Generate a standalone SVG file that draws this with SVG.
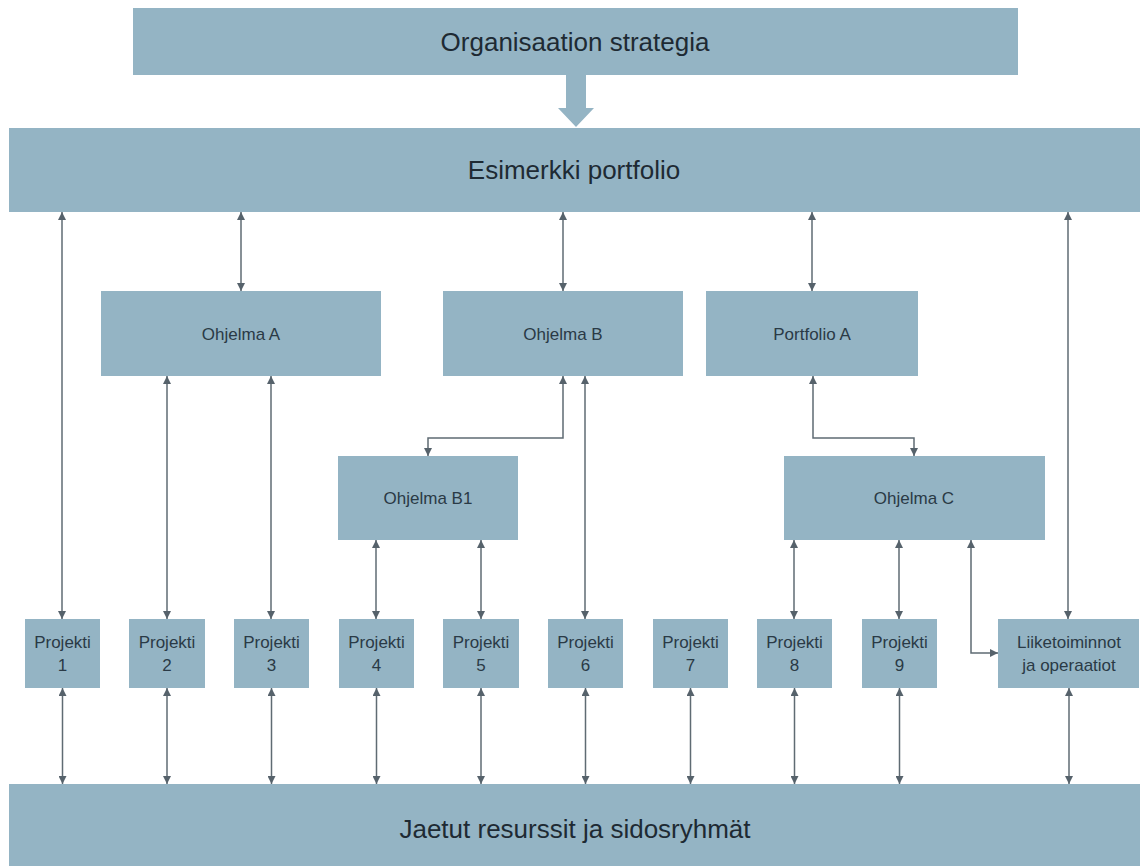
<svg xmlns="http://www.w3.org/2000/svg" width="1140" height="866" viewBox="0 0 1140 866">
<style>
.box{fill:#94b4c4}
.t{font-family:"Liberation Sans",Arial,sans-serif;fill:#2a3a46;text-anchor:middle;dominant-baseline:central}
.big{font-size:26px;fill:#1e2a33}
.sm{font-size:17px}
.c{fill:none;stroke:#5f6b73;stroke-width:1.5;marker-start:url(#ah);marker-end:url(#ah)}
</style>
<defs>
<marker id="ah" viewBox="0 0 8 8" refX="8" refY="4" markerWidth="8" markerHeight="8" markerUnits="userSpaceOnUse" orient="auto-start-reverse">
<path d="M0,0 L8,4 L0,8 z" fill="#56626b"/>
</marker>
</defs>
<rect width="1140" height="866" fill="#ffffff"/>
<g id="strategia">
<rect class="box" x="133" y="8" width="885" height="67"/>
<text class="t big" x="575" y="42">Organisaation strategia</text>
</g>
<g id="bigarrow">
<polygon class="box" points="566,75 586,75 586,108 594,108 576,127 558,108 566,108"/>
</g>
<g id="esimerkki">
<rect class="box" x="9" y="128" width="1131" height="84"/>
<text class="t big" x="574" y="170">Esimerkki portfolio</text>
</g>
<g id="ohjelmaA">
<rect class="box" x="101" y="291" width="280" height="85"/>
<text class="t sm" x="241" y="334">Ohjelma A</text>
</g>
<g id="ohjelmaB">
<rect class="box" x="443" y="291" width="240" height="85"/>
<text class="t sm" x="563" y="334">Ohjelma B</text>
</g>
<g id="portfolioA">
<rect class="box" x="706" y="291" width="212" height="85"/>
<text class="t sm" x="812" y="334">Portfolio A</text>
</g>
<g id="ohjelmaB1">
<rect class="box" x="338" y="456" width="180" height="84"/>
<text class="t sm" x="428" y="498">Ohjelma B1</text>
</g>
<g id="ohjelmaC">
<rect class="box" x="784" y="456" width="261" height="84"/>
<text class="t sm" x="914" y="498">Ohjelma C</text>
</g>
<g id="projekti1"><rect class="box" x="25" y="619" width="75" height="69"/><text class="t sm" x="62.5" y="642">Projekti</text><text class="t sm" x="62.5" y="665">1</text></g>
<g id="projekti2"><rect class="box" x="129" y="619" width="76" height="69"/><text class="t sm" x="167" y="642">Projekti</text><text class="t sm" x="167" y="665">2</text></g>
<g id="projekti3"><rect class="box" x="234" y="619" width="75" height="69"/><text class="t sm" x="271.5" y="642">Projekti</text><text class="t sm" x="271.5" y="665">3</text></g>
<g id="projekti4"><rect class="box" x="339" y="619" width="75" height="69"/><text class="t sm" x="376.5" y="642">Projekti</text><text class="t sm" x="376.5" y="665">4</text></g>
<g id="projekti5"><rect class="box" x="443" y="619" width="76" height="69"/><text class="t sm" x="481" y="642">Projekti</text><text class="t sm" x="481" y="665">5</text></g>
<g id="projekti6"><rect class="box" x="548" y="619" width="75" height="69"/><text class="t sm" x="585.5" y="642">Projekti</text><text class="t sm" x="585.5" y="665">6</text></g>
<g id="projekti7"><rect class="box" x="653" y="619" width="75" height="69"/><text class="t sm" x="690.5" y="642">Projekti</text><text class="t sm" x="690.5" y="665">7</text></g>
<g id="projekti8"><rect class="box" x="757" y="619" width="75" height="69"/><text class="t sm" x="794.5" y="642">Projekti</text><text class="t sm" x="794.5" y="665">8</text></g>
<g id="projekti9"><rect class="box" x="862" y="619" width="75" height="69"/><text class="t sm" x="899.5" y="642">Projekti</text><text class="t sm" x="899.5" y="665">9</text></g>
<g id="liiketoiminnot"><rect class="box" x="998" y="619" width="141" height="69"/><text class="t sm" x="1069" y="642">Liiketoiminnot</text><text class="t sm" x="1069" y="665">ja operaatiot</text></g>
<g id="jaetut">
<rect class="box" x="9" y="784" width="1131" height="82"/>
<text class="t big" x="575" y="829">Jaetut resurssit ja sidosryhmät</text>
</g>
<g id="connectors">
<path class="c" d="M62,212 V619"/>
<path class="c" d="M241,212 V291"/>
<path class="c" d="M563,212 V291"/>
<path class="c" d="M812,212 V291"/>
<path class="c" d="M1068,212 V619"/>
<path class="c" d="M167,376 V619"/>
<path class="c" d="M271,376 V619"/>
<path class="c" d="M563,376 V438 H428 V456"/>
<path class="c" d="M585,376 V619"/>
<path class="c" d="M813,376 V438 H914 V456"/>
<path class="c" d="M376,540 V619"/>
<path class="c" d="M481,540 V619"/>
<path class="c" d="M794,540 V619"/>
<path class="c" d="M899,540 V619"/>
<path class="c" d="M971,540 V653 H998"/>
<path class="c" d="M62.5,688 V784"/>
<path class="c" d="M167,688 V784"/>
<path class="c" d="M271.5,688 V784"/>
<path class="c" d="M376.5,688 V784"/>
<path class="c" d="M481,688 V784"/>
<path class="c" d="M585.5,688 V784"/>
<path class="c" d="M690.5,688 V784"/>
<path class="c" d="M794.5,688 V784"/>
<path class="c" d="M899.5,688 V784"/>
<path class="c" d="M1069,688 V784"/>
</g>
</svg>
